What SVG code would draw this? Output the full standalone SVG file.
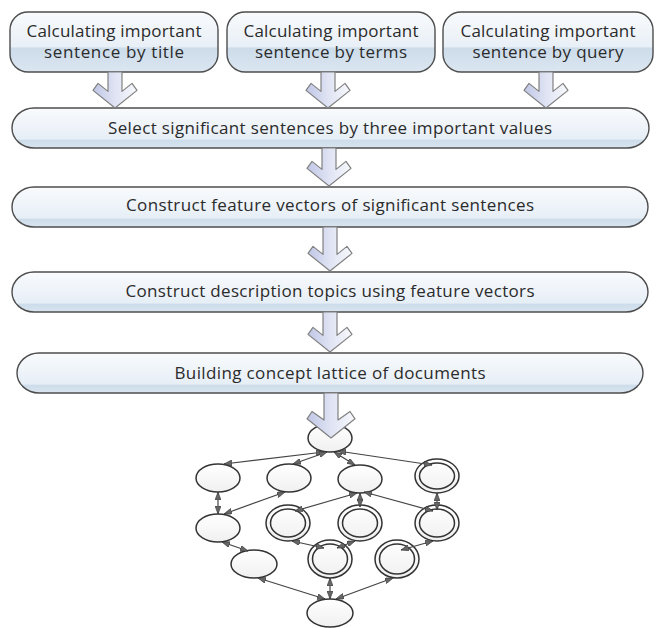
<svg xmlns="http://www.w3.org/2000/svg" width="659" height="628" viewBox="0 0 659 628">
  <style>
    .box { stroke: #4d4d4d; stroke-width: 1.4; }
    .top { fill: url(#gTop); }
    .wide { fill: url(#gWide); }
    .lbl { font-family: "Open Sans", "Liberation Sans", sans-serif; font-size: 17px; fill: #2b2b2b; text-anchor: middle; }
    .flow { fill: url(#gArrow); stroke: #808080; stroke-width: 1.2; stroke-linejoin: round; }
    .node { fill: url(#gNode); stroke: #333; stroke-width: 1.5; }
    .ring { fill: none; stroke: #333; stroke-width: 1.5; }
    .edge { stroke: #444; stroke-width: 1.2; fill: none; marker-start: url(#tipS); marker-end: url(#tipE); }
  </style>
  <defs>
    <linearGradient id="gTop" x1="0" y1="0" x2="0" y2="1">
      <stop offset="0" stop-color="#f9fbfd"/>
      <stop offset="0.58" stop-color="#e8eff6"/>
      <stop offset="0.6" stop-color="#cddcea"/>
      <stop offset="1" stop-color="#dbe6f1"/>
    </linearGradient>
    <linearGradient id="gWide" x1="0" y1="0" x2="0" y2="1">
      <stop offset="0" stop-color="#f9fbfd"/>
      <stop offset="0.78" stop-color="#e6eef6"/>
      <stop offset="0.8" stop-color="#cddcea"/>
      <stop offset="1" stop-color="#d9e5f0"/>
    </linearGradient>
    <linearGradient id="gArrow" x1="0" y1="0" x2="1" y2="0">
      <stop offset="0" stop-color="#c0c7e6"/>
      <stop offset="0.5" stop-color="#dfe3f3"/>
      <stop offset="1" stop-color="#f8f9fd"/>
    </linearGradient>
    <linearGradient id="gNode" x1="0" y1="0" x2="0" y2="1">
      <stop offset="0" stop-color="#ffffff"/>
      <stop offset="1" stop-color="#f0f0f0"/>
    </linearGradient>
    <marker id="tipE" viewBox="0 0 8 6" refX="8" refY="3" markerWidth="8" markerHeight="6" markerUnits="userSpaceOnUse" orient="auto">
      <path d="M0,0 L8,3 L0,6 Z" fill="#666" stroke="#333" stroke-width="0.6"/>
    </marker>
    <marker id="tipS" viewBox="0 0 8 6" refX="8" refY="3" markerWidth="8" markerHeight="6" markerUnits="userSpaceOnUse" orient="auto-start-reverse">
      <path d="M0,0 L8,3 L0,6 Z" fill="#666" stroke="#333" stroke-width="0.6"/>
    </marker>
  </defs>

  <!-- flow steps -->
  <g id="title">
    <rect class="box top" x="10" y="12" width="208" height="60" rx="18"/>
    <text class="lbl" x="114" y="37" textLength="175" lengthAdjust="spacing">Calculating important</text>
    <text class="lbl" x="114" y="58" textLength="140" lengthAdjust="spacing">sentence by title</text>
  </g>
  <g id="terms">
    <rect class="box top" x="227" y="12" width="208" height="60" rx="18"/>
    <text class="lbl" x="331" y="37" textLength="175" lengthAdjust="spacing">Calculating important</text>
    <text class="lbl" x="331" y="58" textLength="152" lengthAdjust="spacing">sentence by terms</text>
  </g>
  <g id="query">
    <rect class="box top" x="443" y="12" width="210" height="60" rx="18"/>
    <text class="lbl" x="548" y="37" textLength="175" lengthAdjust="spacing">Calculating important</text>
    <text class="lbl" x="548" y="58" textLength="151" lengthAdjust="spacing">sentence by query</text>
  </g>
  <g id="select">
    <rect class="box wide" x="12" y="108" width="637" height="40" rx="22" ry="20"/>
    <text class="lbl" x="330" y="134" textLength="444" lengthAdjust="spacing">Select significant sentences by three important values</text>
  </g>
  <g id="features">
    <rect class="box wide" x="12" y="187" width="636" height="40" rx="22" ry="20"/>
    <text class="lbl" x="330" y="211" textLength="408" lengthAdjust="spacing">Construct feature vectors of significant sentences</text>
  </g>
  <g id="topics">
    <rect class="box wide" x="12" y="272" width="636" height="40" rx="22" ry="20"/>
    <text class="lbl" x="330" y="297" textLength="409" lengthAdjust="spacing">Construct description topics using feature vectors</text>
  </g>
  <g id="lattice-build">
    <rect class="box wide" x="17" y="353" width="626" height="40" rx="22" ry="20"/>
    <text class="lbl" x="330" y="379" textLength="311" lengthAdjust="spacing">Building concept lattice of documents</text>
  </g>

  <!-- concept lattice nodes -->
  <g id="n-top"><ellipse class="node" cx="330" cy="438" rx="22" ry="14"/></g>
  <g id="n-a"><ellipse class="node" cx="218" cy="478" rx="22" ry="14"/></g>
  <g id="n-b"><ellipse class="node" cx="289" cy="478" rx="22" ry="14"/></g>
  <g id="n-c"><ellipse class="node" cx="360" cy="479" rx="22" ry="14"/></g>
  <g id="n-d"><ellipse class="node" cx="437" cy="476" rx="22" ry="17"/><ellipse class="ring" cx="437" cy="476" rx="17.5" ry="13"/></g>
  <g id="n-e"><ellipse class="node" cx="218" cy="528" rx="22" ry="14"/></g>
  <g id="n-f"><ellipse class="node" cx="288" cy="523" rx="22" ry="18"/><ellipse class="ring" cx="288" cy="523" rx="17.5" ry="14"/></g>
  <g id="n-g"><ellipse class="node" cx="360" cy="523" rx="22" ry="18"/><ellipse class="ring" cx="360" cy="523" rx="17.5" ry="14"/></g>
  <g id="n-h"><ellipse class="node" cx="437" cy="523" rx="22" ry="18"/><ellipse class="ring" cx="437" cy="523" rx="17.5" ry="14"/></g>
  <g id="n-i"><ellipse class="node" cx="254" cy="564" rx="23" ry="14"/></g>
  <g id="n-j"><ellipse class="node" cx="330" cy="559" rx="22" ry="19"/><ellipse class="ring" cx="330" cy="559" rx="17.5" ry="15"/></g>
  <g id="n-k"><ellipse class="node" cx="397" cy="559" rx="22" ry="19"/><ellipse class="ring" cx="397" cy="559" rx="17.5" ry="15"/></g>
  <g id="n-bottom"><ellipse class="node" cx="330" cy="613" rx="23" ry="14"/></g>

  <!-- connectors -->
  <g id="connectors">
    <g id="lattice-edges">
      <line class="edge" x1="324" y1="452" x2="224" y2="464"/>
      <line class="edge" x1="327" y1="452" x2="293" y2="464"/>
      <line class="edge" x1="334" y1="452" x2="355" y2="465"/>
      <line class="edge" x1="338" y1="451" x2="432" y2="465"/>
      <line class="edge" x1="218" y1="492" x2="218" y2="514"/>
      <line class="edge" x1="285" y1="492" x2="224" y2="514"/>
      <line class="edge" x1="357" y1="493" x2="295" y2="511"/>
      <line class="edge" x1="360" y1="493" x2="360" y2="507"/>
      <line class="edge" x1="364" y1="492" x2="433" y2="511"/>
      <line class="edge" x1="437" y1="493" x2="437" y2="510"/>
      <line class="edge" x1="222" y1="542" x2="248" y2="551"/>
      <line class="edge" x1="292" y1="541" x2="324" y2="548"/>
      <line class="edge" x1="355" y1="541" x2="337" y2="548"/>
      <line class="edge" x1="433" y1="541" x2="401" y2="550"/>
      <line class="edge" x1="258" y1="578" x2="325" y2="599"/>
      <line class="edge" x1="330" y1="578" x2="330" y2="599"/>
      <line class="edge" x1="393" y1="578" x2="336" y2="599"/>
    </g>
    <g id="flow-arrows">
      <path class="flow" d="M108,72 L122,72 L122,91.4 L132,83.4 L137,90.4 L115,108 L93,90.4 L98,83.4 L108,91.4 Z"/>
      <path class="flow" d="M321,72 L335,72 L335,91.4 L345,83.4 L350,90.4 L328,108 L306,90.4 L311,83.4 L321,91.4 Z"/>
      <path class="flow" d="M539,72 L553,72 L553,91.4 L563,83.4 L568,90.4 L546,108 L524,90.4 L529,83.4 L539,91.4 Z"/>
      <path class="flow" d="M322,148 L336,148 L336,169.4 L346,161.4 L351,168.4 L329,186 L307,168.4 L312,161.4 L322,169.4 Z"/>
      <path class="flow" d="M323,227 L337,227 L337,254.4 L347,246.4 L352,253.4 L330,271 L308,253.4 L313,246.4 L323,254.4 Z"/>
      <path class="flow" d="M323,312 L337,312 L337,335.4 L347,327.4 L352,334.4 L330,352 L308,334.4 L313,327.4 L323,335.4 Z"/>
      <path class="flow" d="M324,393 L338,393 L338,420 L350,411.5 L355,418.8 L331,438 L307,418.8 L312,411.5 L324,420 Z"/>
    </g>
  </g>
</svg>
